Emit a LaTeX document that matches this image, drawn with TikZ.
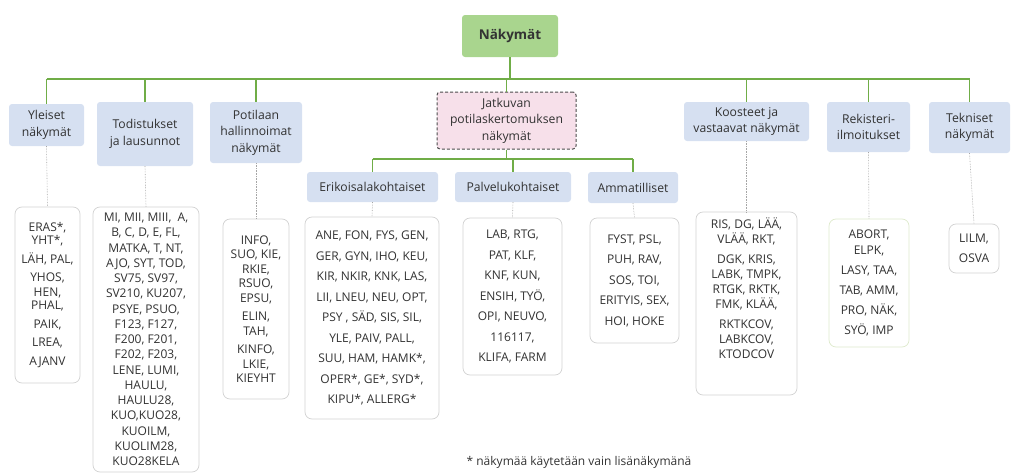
\documentclass[tikz,border=0pt]{standalone}
\usepackage{fontspec}
\setmainfont{Open Sans}
\usepackage{tikz}
\usetikzlibrary{positioning}
\definecolor{nvgreen}{RGB}{112,173,71}
\definecolor{nvlightgreen}{RGB}{169,213,142}
\definecolor{nvblue}{RGB}{214,224,241}
\definecolor{nvpink}{RGB}{247,224,234}
\definecolor{nvtext}{RGB}{50,50,50}
\definecolor{nvborder}{RGB}{210,210,210}
\definecolor{nvolive}{RGB}{222,234,204}
\tikzstyle{head} = [rectangle, rounded corners=3pt, fill=nvblue, text=nvtext, align=center, inner sep=2pt, font=\fontsize{12.2}{16.5}\selectfont]
\tikzstyle{bus} = [line width=1.5pt, color=nvgreen]
\tikzstyle{dotline} = [densely dotted, color=black!35, line width=0.6pt]
\tikzset{viewlist/.style={rectangle, rounded corners=7pt, draw=nvborder, fill=white, text=nvtext, align=center, inner sep=2pt, line width=0.7pt, font=\fontsize{12}{#1}\selectfont}, viewlist/.default=20.5}

\begin{document}
\begin{tikzpicture}[x=1pt, y=-1pt]
\useasboundingbox (0,0) rectangle (1012,474);
% Root
\node[rectangle, rounded corners=3pt, fill=nvlightgreen, text=black!80, font=\fontsize{13.5}{16}\selectfont\bfseries, minimum width=96pt, minimum height=42pt] (root) at (510,36) {Näkymät};

% Main groups
\node[head, minimum width=75pt, minimum height=42pt] (yl) at (46.5,125) {Yleiset\\näkymät};
\node[head, minimum width=96pt, minimum height=64pt] (td) at (145,134) {Todistukset\\ja lausunnot};
\node[head, minimum width=92pt, minimum height=61pt] (pl) at (256,132.5) {Potilaan\\hallinnoimat\\näkymät};
\node[head, fill=nvpink, draw=black!70, densely dashed, line width=1pt, minimum width=139pt, minimum height=57pt] (jk) at (506.5,120.5) {Jatkuvan\\potilaskertomuksen\\näkymät};
\node[head, minimum width=125pt, minimum height=39pt] (ko) at (746.5,121.5) {Koosteet ja\\vastaavat näkymät};
\node[head, minimum width=83pt, minimum height=50pt] (re) at (868.5,127) {Rekisteri-\\ilmoitukset};
\node[head, minimum width=81pt, minimum height=51pt] (tk) at (969.5,127.5) {Tekniset\\näkymät};

% Sub groups
\node[head, minimum width=131pt, minimum height=30pt] (er) at (372.5,187) {Erikoisalakohtaiset};
\node[head, minimum width=116pt, minimum height=30pt] (pv) at (513,187) {Palvelukohtaiset};
\node[head, minimum width=90pt, minimum height=31pt] (am) at (633,187.5) {Ammatilliset};

% Lists
\node[viewlist=13.5, minimum width=65pt, minimum height=176pt] (lyl) at (47.5,295) {ERAS*,\\YHT*,\\[5pt]LÄH, PAL,\\[5pt]YHOS,\\[1pt]HEN,\\PHAL,\\[5pt]PAIK,\\[5pt]LREA,\\[5pt]AJANV};
\node[viewlist=15.25, minimum width=106pt, minimum height=265pt] (ltd) at (146,339.5) {MI, MII, MIII,\ \ A,\\B, C, D, E, FL,\\MATKA, T, NT,\\AJO, SYT,\ TOD,\\SV75, SV97,\\SV210, KU207,\\PSYE, PSUO,\\F123, F127,\\F200, F201,\\F202, F203,\\LENE, LUMI,\\HAULU,\\HAULU28,\\KUO,KUO28,\\KUOILM,\\KUOLIM28,\\KUO28KELA};
\node[viewlist=14.5, minimum width=66pt, minimum height=180pt] (lpl) at (256,309) {INFO,\\SUO, KIE,\\RKIE,\\RSUO,\\EPSU,\\[4pt]ELIN,\\TAH,\\[4pt]KINFO,\\LKIE,\\KIEYHT};
\node[viewlist, minimum width=134pt, minimum height=202pt] (ler) at (372,318) {ANE, FON, FYS, GEN,\\GER, GYN, IHO, KEU,\\KIR, NKIR, KNK, LAS,\\LII, LNEU, NEU, OPT,\\PSY , SÄD, SIS, SIL,\\YLE, PAIV, PALL,\\SUU, HAM, HAMK*,\\OPER*, GE*, SYD*,\\KIPU*, ALLERG*};
\node[viewlist, minimum width=99pt, minimum height=157pt] (lpv) at (512.5,296.5) {LAB, RTG,\\PAT, KLF,\\KNF, KUN,\\ENSIH, TYÖ,\\OPI, NEUVO,\\116117,\\KLIFA, FARM};
\node[viewlist, minimum width=89pt, minimum height=125pt] (lam) at (634.5,280.5) {FYST, PSL,\\PUH, RAV,\\SOS, TOI,\\ERITYIS, SEX,\\HOI, HOKE};
\node[viewlist=15, minimum width=101pt, minimum height=183pt, text depth=30pt] (lko) at (746.5,303.5) {RIS, DG, LÄÄ,\\VLÄÄ, RKT,\\[5pt]DGK,\ KRIS,\\LABK, TMPK,\\RTGK, RKTK,\\FMK,\ KLÄÄ,\\[5pt]RKTKCOV,\\LABKCOV,\\KTODCOV};
\node[viewlist=20, draw=nvolive, minimum width=80pt, minimum height=128pt] (lre) at (869,283) {ABORT,\\[-4pt]ELPK,\\LASY, TAA,\\TAB, AMM,\\PRO, NÄK,\\SYÖ, IMP};
\node[viewlist=20, minimum width=50pt, minimum height=49pt] (ltk) at (974,248.5) {LILM,\\OSVA};

\node[text=nvtext, font=\fontsize{12}{14}\selectfont] (note) at (579,462) {* näkymää käytetään vain lisänäkymänä};

% Connectors
\coordinate (busy) at (0,79);
\coordinate (suby) at (0,159);
\draw[bus] (root.south) -- (root.south |- busy);
\draw[bus] (yl.north |- busy) -- (tk.north |- busy);
\foreach \n in {yl,td,pl,jk,ko,re,tk}
  \draw[bus] (\n.north) -- (\n.north |- busy);
\draw[bus] (jk.south) -- (jk.south |- suby);
\draw[bus] (er.north |- suby) -- (am.north |- suby);
\foreach \n in {er,pv,am}
  \draw[bus] (\n.north) -- (\n.north |- suby);
\foreach \n in {yl,td,pl,er,pv,am,ko,re,tk}
  \draw[dotline] (\n.south) -- (l\n.north);
\end{tikzpicture}
\end{document}
